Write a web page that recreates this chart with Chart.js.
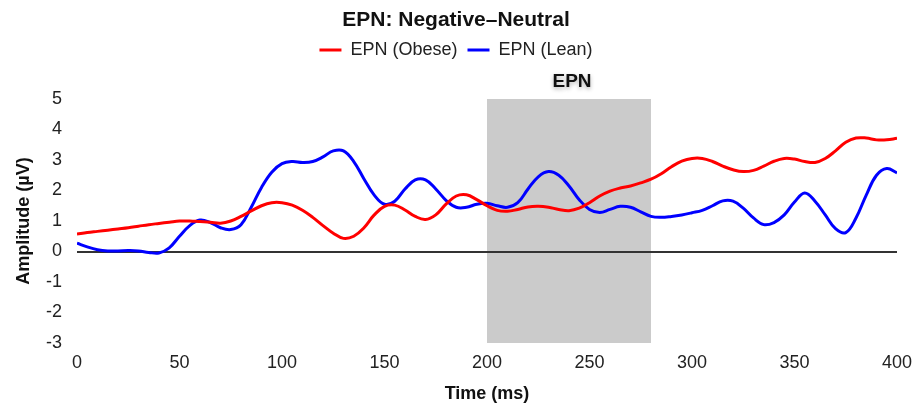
<!DOCTYPE html>
<html>
<head>
<meta charset="utf-8">
<script src="https://cdn.jsdelivr.net/npm/chart.js@4"></script>
<style>
  html, body { margin: 0; padding: 0; background: #fff; }
  #wrap { width: 912px; height: 406px; }
</style>
</head>
<body>
<div id="wrap"><canvas id="chart"></canvas></div>
<script>
// time in ms, every 5 ms
const times = [];
for (let t = 0; t <= 400; t += 5) times.push(t);

const obese = [
  0.57, 0.62, 0.66, 0.70, 0.74, 0.78, 0.83, 0.88, 0.92, 0.96,
  1.00, 1.00, 0.98, 0.96, 0.93, 1.00, 1.15, 1.33, 1.50, 1.60,
  1.60, 1.52, 1.35, 1.12, 0.85, 0.60, 0.43, 0.50, 0.78, 1.20,
  1.48, 1.52, 1.36, 1.15, 1.05, 1.20, 1.55, 1.82, 1.86, 1.70,
  1.50, 1.35, 1.32, 1.38, 1.46, 1.48, 1.45, 1.38, 1.34, 1.42,
  1.60, 1.82, 1.98, 2.08, 2.15, 2.25, 2.37, 2.55, 2.78, 2.96,
  3.05, 3.05, 2.95, 2.80, 2.68, 2.62, 2.66, 2.80, 2.96, 3.05,
  3.03, 2.95, 2.92, 3.05, 3.30, 3.58, 3.72, 3.72, 3.66, 3.66,
  3.71
];

const lean = [
  0.27, 0.15, 0.06, 0.02, 0.02, 0.03, 0.02, -0.03, -0.05, 0.12,
  0.50, 0.85, 1.03, 0.95, 0.78, 0.72, 0.88, 1.45, 2.10, 2.60,
  2.88, 2.95, 2.92, 2.95, 3.10, 3.30, 3.30, 2.95, 2.38, 1.85,
  1.55, 1.65, 2.05, 2.35, 2.35, 2.05, 1.68, 1.45, 1.45, 1.55,
  1.58, 1.50, 1.45, 1.60, 2.05, 2.45, 2.62, 2.50, 2.15, 1.70,
  1.38, 1.28, 1.38, 1.48, 1.45, 1.30, 1.15, 1.12, 1.15, 1.20,
  1.27, 1.35, 1.50, 1.66, 1.65, 1.42, 1.10, 0.88, 0.95, 1.20,
  1.62, 1.92, 1.65, 1.20, 0.75, 0.62, 1.10, 1.85, 2.50, 2.72,
  2.58
];

const seriesNames = ['EPN (Obese)', 'EPN (Lean)'];
const epnWindow = [200, 280];

const FONT = "'Liberation Sans', Arial, sans-serif";

// grey EPN window + label, drawn under the grid so the zero line stays on top
const windowPlugin = {
  id: 'epnWindow',
  beforeDraw(chart) {
    const { ctx, chartArea, scales } = chart;
    const x0 = scales.x.getPixelForValue(epnWindow[0]);
    const x1 = scales.x.getPixelForValue(epnWindow[1]);
    ctx.save();
    ctx.fillStyle = '#cbcbcb';
    ctx.fillRect(x0, chartArea.top, x1 - x0, chartArea.bottom - chartArea.top);
    ctx.font = `bold 19px ${FONT}`;
    ctx.textAlign = 'center';
    ctx.textBaseline = 'middle';
    ctx.shadowColor = 'rgba(0,0,0,0.3)';
    ctx.shadowBlur = 4;
    ctx.shadowOffsetY = 2;
    ctx.fillStyle = '#111';
    ctx.fillText('EPN', (x0 + x1) / 2 + 3, chartArea.top - 17);
    ctx.restore();
  }
};

const toPoints = (vals) => vals.map((v, i) => ({ x: times[i], y: v }));

new Chart(document.getElementById('chart'), {
  type: 'line',
  data: {
    datasets: [
      {
        label: seriesNames[0],
        data: toPoints(obese),
        borderColor: '#ff0000',
        backgroundColor: '#ff0000',
        borderWidth: 3,
        pointRadius: 0,
        tension: 0.4
      },
      {
        label: seriesNames[1],
        data: toPoints(lean),
        borderColor: '#0000ff',
        backgroundColor: '#0000ff',
        borderWidth: 3,
        pointRadius: 0,
        tension: 0.4
      }
    ]
  },
  options: {
    responsive: true,
    maintainAspectRatio: false,
    animation: false,
    layout: { padding: 0 },
    plugins: {
      title: {
        display: true,
        text: 'EPN: Negative\u2013Neutral',
        color: '#111',
        font: { family: FONT, size: 21, weight: 'bold', lineHeight: 1 },
        padding: { top: 10, bottom: 0 }
      },
      // empty spacer under the legend, leaves room for the EPN label
      subtitle: {
        display: true,
        text: '',
        weight: 500,
        font: { size: 10, lineHeight: 1.2 },
        padding: { top: 18, bottom: 0 }
      },
      legend: {
        display: true,
        labels: {
          color: '#222',
          font: { family: FONT, size: 18 },
          usePointStyle: true,
          pointStyle: 'line',
          pointStyleWidth: 22,
          boxHeight: 3,
          padding: 10
        }
      },
      tooltip: { enabled: false }
    },
    scales: {
      x: {
        type: 'linear',
        min: 0,
        max: 400,
        grid: { display: false, drawTicks: false },
        border: { display: false },
        ticks: {
          stepSize: 50,
          color: '#222',
          font: { family: FONT, size: 18 },
          padding: 9
        },
        title: {
          display: true,
          text: 'Time (ms)',
          color: '#111',
          font: { family: FONT, size: 18, weight: 'bold' },
          padding: { top: 0, bottom: 1 }
        },
        afterFit: (scale) => {
          scale.height = 63;
          scale.paddingLeft = 0;
          scale.paddingRight = 15;
        }
      },
      y: {
        min: -3,
        max: 5,
        grid: {
          drawTicks: false,
          color: (c) => (c.tick && c.tick.value === 0 ? '#333' : 'rgba(0,0,0,0)'),
          lineWidth: 2
        },
        border: { display: false },
        ticks: {
          stepSize: 1,
          color: '#222',
          font: { family: FONT, size: 18 },
          padding: 15
        },
        title: {
          display: true,
          text: 'Amplitude (µV)',
          color: '#111',
          font: { family: FONT, size: 18, weight: 'bold' },
          padding: { top: 13, bottom: 0 }
        },
        afterFit: (scale) => { scale.width = 77; }
      }
    }
  },
  plugins: [windowPlugin]
});
</script>
</body>
</html>
